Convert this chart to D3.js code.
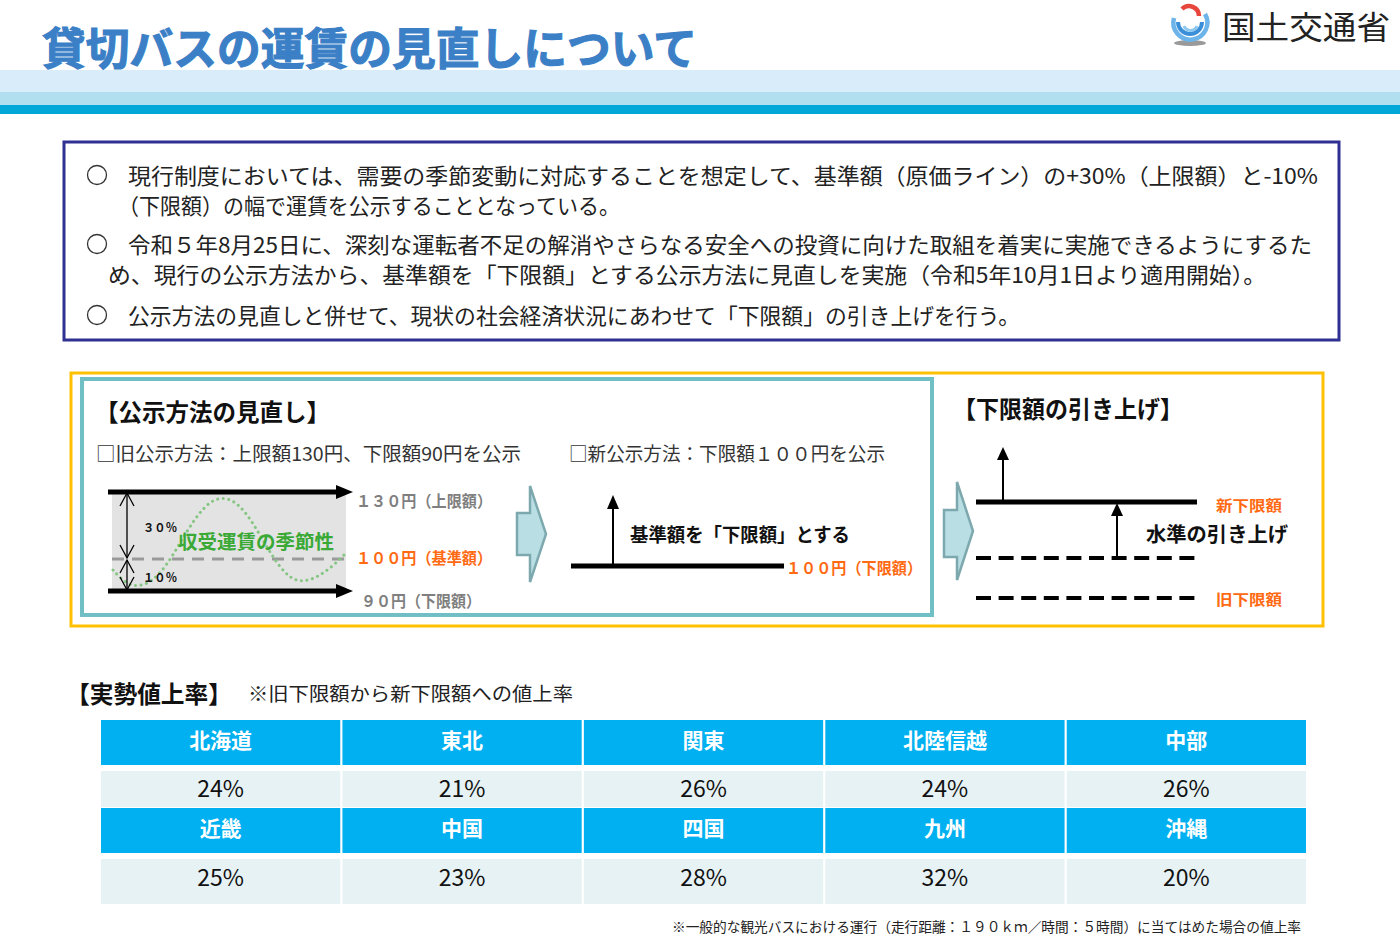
<!DOCTYPE html>
<html><head><meta charset="utf-8">
<script src="https://cdn.jsdelivr.net/npm/d3@7"></script>
<style>
html,body{margin:0;padding:0;background:#fff;}
svg{display:block;font-family:"Noto Sans CJK JP","Noto Sans",sans-serif;}
</style></head>
<body><svg id="c" width="1400" height="948"></svg>
<script>
// ---- data ----
const titleText = "貸切バスの運賃の見直しについて";
const ministry = "国土交通省";
const bullets = [
  ["現行制度においては、需要の季節変動に対応することを想定して、基準額（原価ライン）の+30%（上限額）と-10%", "（下限額）の幅で運賃を公示することとなっている。"],
  ["令和５年8月25日に、深刻な運転者不足の解消やさらなる安全への投資に向けた取組を着実に実施できるようにするた", "め、現行の公示方法から、基準額を「下限額」とする公示方法に見直しを実施（令和5年10月1日より適用開始）。"],
  ["公示方法の見直しと併せて、現状の社会経済状況にあわせて「下限額」の引き上げを行う。"]
];
const oldLabels = ["１３０円（上限額）", "１００円（基準額）", "９０円（下限額）"];
const pctLabels = ["３０％", "１０％"];
const regionsRow1 = ["北海道", "東北", "関東", "北陸信越", "中部"];
const ratesRow1 = [24, 21, 26, 24, 26];
const regionsRow2 = ["近畿", "中国", "四国", "九州", "沖縄"];
const ratesRow2 = [25, 23, 28, 32, 20];
const seasonCurve = [[113,570],[125,583],[137,587],[152,582],[167,565],[180,543],[195,518],[210,501],[223,497],[237,502],[252,521],[265,544],[278,565],[291,579],[303,582],[318,577],[333,566],[347,552]];

const svg = d3.select("#c");
const ORANGE = "#ff6a13", BLUE = "#00b0f0";

function txt(x, y, s, o) {
  o = o || {};
  const t = svg.append("text").attr("x", x).attr("y", y).text(s)
    .attr("font-size", o.size || 20).attr("fill", o.fill || "#222")
    .attr("font-weight", o.weight || 400)
    .attr("text-anchor", o.anchor || "start");
  if (o.len) t.attr("textLength", o.len).attr("lengthAdjust", "spacingAndGlyphs");
  if (o.stroke) t.attr("stroke", o.stroke).attr("stroke-width", o.sw || 1);
  if (o.family) t.attr("font-family", o.family);
  return t;
}

// ---- header ----
svg.append("rect").attr("x",0).attr("y",70).attr("width",1400).attr("height",22).attr("fill","#d8edf9");
svg.append("rect").attr("x",0).attr("y",92).attr("width",1400).attr("height",13).attr("fill","#b2dff0");
svg.append("rect").attr("x",0).attr("y",105).attr("width",1400).attr("height",9).attr("fill","#00a8da");
txt(42, 65, titleText, {size:44, weight:700, fill:"#3b80c6", len:655, stroke:"#3b80c6", sw:1.1});

// logo
const lg = svg.append("g");
lg.append("ellipse").attr("cx",1190).attr("cy",43).attr("rx",16).attr("ry",3).attr("fill","#9a9a9a");
lg.append("path").attr("d","M1174,18 A17,17 0 1 0 1205,14").attr("fill","none").attr("stroke","#6cb4ea").attr("stroke-width",4.5);
lg.append("path").attr("d","M1178,22 A12,12 0 0 0 1202,22").attr("fill","none").attr("stroke","#3b8fd8").attr("stroke-width",4);
lg.append("path").attr("d","M1182,9 A10,10 0 0 1 1199,16").attr("fill","none").attr("stroke","#e8453c").attr("stroke-width",4.5);
lg.append("path").attr("d","M1184,26 A7,7 0 0 0 1197,26").attr("fill","none").attr("stroke","#8cc8f0").attr("stroke-width",3);
txt(1222, 39, ministry, {size:32, fill:"#222", len:168});

// ---- intro box ----
svg.append("rect").attr("x",64).attr("y",142).attr("width",1275).attr("height",198)
  .attr("fill","#fff").attr("stroke","#2e3192").attr("stroke-width",3);
const lineY = [[184,214],[253,283],[324]];
const lineX = [[128,118],[128,108],[128]];
const lineLen = [[1190,502],[1184,1158],[892]];
bullets.forEach((b,i)=>{
  svg.append("circle").attr("cx",97).attr("cy",lineY[i][0]-9).attr("r",9.5)
    .attr("fill","none").attr("stroke","#333").attr("stroke-width",1.3);
  b.forEach((s,j)=> txt(lineX[i][j], lineY[i][j], s, {size:22, fill:"#222", len:lineLen[i][j]}));
});

// ---- middle panel ----
svg.append("rect").attr("x",71).attr("y",373).attr("width",1252).attr("height",253)
  .attr("fill","#fff").attr("stroke","#ffc000").attr("stroke-width",3);
svg.append("rect").attr("x",82).attr("y",379).attr("width",850).attr("height",236)
  .attr("fill","#fff").attr("stroke","#6fbfc4").attr("stroke-width",4);

txt(95, 421, "【公示方法の見直し】", {size:24, weight:700, fill:"#111", len:235});
txt(96, 461, "□旧公示方法：上限額130円、下限額90円を公示", {size:19, fill:"#333", len:425});
txt(569, 461, "□新公示方法：下限額１００円を公示", {size:19, fill:"#333", len:316});

// old diagram
svg.append("rect").attr("x",112).attr("y",493).attr("width",234).attr("height",98).attr("fill","#e3e3e3");
svg.append("line").attr("x1",112).attr("x2",346).attr("y1",559).attr("y2",559)
  .attr("stroke","#9a9a9a").attr("stroke-width",3).attr("stroke-dasharray","12,8");
svg.append("path").datum(seasonCurve)
  .attr("d", d3.line().curve(d3.curveBasis))
  .attr("fill","none").attr("stroke","#86c683").attr("stroke-width",3)
  .attr("stroke-dasharray","0.1,5.5").attr("stroke-linecap","round");
[492,591].forEach(y=>{
  svg.append("line").attr("x1",108).attr("x2",340).attr("y1",y).attr("y2",y).attr("stroke","#000").attr("stroke-width",5);
  svg.append("path").attr("d",`M336,${y-7}L353,${y}L336,${y+7}Z`).attr("fill","#000");
});
// double arrows
const ax = 127;
[[493,558],[560,590]].forEach(([a,b])=>{
  svg.append("line").attr("x1",ax).attr("x2",ax).attr("y1",a).attr("y2",b).attr("stroke","#000").attr("stroke-width",1.3);
  svg.append("path").attr("d",`M${ax-7},${a+13}L${ax},${a}L${ax+7},${a+13}`).attr("fill","none").attr("stroke","#000").attr("stroke-width",1.3);
  svg.append("path").attr("d",`M${ax-7},${b-13}L${ax},${b}L${ax+7},${b-13}`).attr("fill","none").attr("stroke","#000").attr("stroke-width",1.3);
});
txt(143, 532, pctLabels[0], {size:12, weight:700, fill:"#111", len:34});
txt(143, 582, pctLabels[1], {size:12, weight:700, fill:"#111", len:34});
txt(178, 549, "収受運賃の季節性", {size:19, weight:700, fill:"#3aa935", len:156});
txt(356, 507, oldLabels[0], {size:16, weight:700, fill:"#7f7f7f", len:136});
txt(356, 564, oldLabels[1], {size:16, weight:700, fill:ORANGE, len:136});
txt(361, 607, oldLabels[2], {size:16, weight:700, fill:"#7f7f7f", len:120});

// block arrows
function blockArrow(x0, xb, xt, yTop, yBot, bTop, bBot) {
  const ym = (yTop + yBot) / 2;
  svg.append("path").attr("d",`M${x0},${bTop}L${xb},${bTop}L${xb},${yTop}L${xt},${ym}L${xb},${yBot}L${xb},${bBot}L${x0},${bBot}Z`)
    .attr("fill","#b9dfe5").attr("stroke","#7da9ae").attr("stroke-width",2.5);
}
blockArrow(517, 530, 546, 486, 582, 513, 555);
blockArrow(944, 957, 973, 482, 580, 510, 557);

// new diagram
svg.append("line").attr("x1",571).attr("x2",784).attr("y1",566).attr("y2",566).attr("stroke","#000").attr("stroke-width",5);
svg.append("line").attr("x1",613).attr("x2",613).attr("y1",566).attr("y2",508).attr("stroke","#000").attr("stroke-width",2);
svg.append("path").attr("d","M607,509L613,495L619,509Z").attr("fill","#000");
txt(630, 542, "基準額を「下限額」とする", {size:19, weight:700, fill:"#111", len:220});
txt(786, 574, "１００円（下限額）", {size:16, weight:700, fill:ORANGE, len:136});

// right diagram
txt(953, 418, "【下限額の引き上げ】", {size:24, weight:700, fill:"#111", len:230});
svg.append("line").attr("x1",976).attr("x2",1197).attr("y1",502).attr("y2",502).attr("stroke","#000").attr("stroke-width",5);
[558,598].forEach(y=> svg.append("line").attr("x1",976).attr("x2",1197).attr("y1",y).attr("y2",y)
  .attr("stroke","#000").attr("stroke-width",4).attr("stroke-dasharray","15,7.6"));
[[1003,502,447],[1117,558,503]].forEach(([x,y0,y1])=>{
  svg.append("line").attr("x1",x).attr("x2",x).attr("y1",y0).attr("y2",y1+12).attr("stroke","#000").attr("stroke-width",2);
  svg.append("path").attr("d",`M${x-6},${y1+13}L${x},${y1}L${x+6},${y1+13}Z`).attr("fill","#000");
});
txt(1216, 511, "新下限額", {size:15, weight:700, fill:ORANGE, len:66});
txt(1146, 542, "水準の引き上げ", {size:20, weight:700, fill:"#111", len:142});
txt(1216, 605, "旧下限額", {size:15, weight:700, fill:ORANGE, len:66});

// ---- table ----
txt(66, 703, "【実勢値上率】", {size:24, weight:700, fill:"#111", len:166});
txt(248, 701, "※旧下限額から新下限額への値上率", {size:19, fill:"#222", len:325});

const x = d3.scaleBand().domain(d3.range(5)).range([101, 1306]).paddingInner(0.009);
const rows = [
  {names: regionsRow1, vals: ratesRow1, hy: 720, vy: 771, vh: 36},
  {names: regionsRow2, vals: ratesRow2, hy: 808, vy: 859, vh: 45}
];
const fmt = v => v + "%";
rows.forEach(r=>{
  const g = svg.append("g");
  g.selectAll("rect.h").data(r.names).join("rect").attr("class","h")
    .attr("x",(d,i)=>x(i)).attr("y",r.hy).attr("width",x.bandwidth()).attr("height",45).attr("fill",BLUE);
  g.selectAll("rect.v").data(r.vals).join("rect").attr("class","v")
    .attr("x",(d,i)=>x(i)).attr("y",r.vy).attr("width",x.bandwidth()).attr("height",r.vh).attr("fill","#e6f2f4");
  g.selectAll("text.h").data(r.names).join("text").attr("class","h")
    .attr("x",(d,i)=>x(i)+x.bandwidth()/2).attr("y",r.hy+28).attr("text-anchor","middle")
    .attr("font-size",21).attr("font-weight",700).attr("fill","#fff").text(d=>d);
  g.selectAll("text.v").data(r.vals).join("text").attr("class","v")
    .attr("x",(d,i)=>x(i)+x.bandwidth()/2).attr("y",r.vy+(r.vh===36?26:27)).attr("text-anchor","middle")
    .attr("font-size",23).attr("fill","#111").text(fmt);
});

txt(672, 932, "※一般的な観光バスにおける運行（走行距離：１９０ｋｍ／時間：５時間）に当てはめた場合の値上率", {size:14, fill:"#222", len:629});
</script></body></html>
